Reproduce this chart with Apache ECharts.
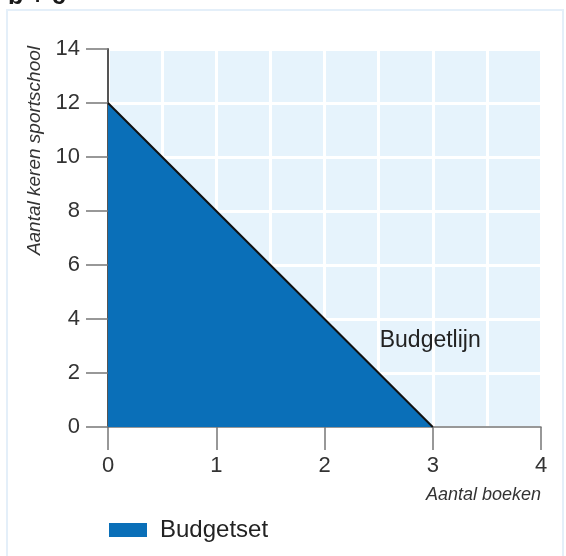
<!DOCTYPE html>
<html>
<head>
<meta charset="utf-8">
<script src="https://cdn.jsdelivr.net/npm/echarts@6/dist/echarts.min.js"></script>
<style>html,body{margin:0;padding:0;background:#fff;}#c{width:566px;height:556px;}</style>
</head>
<body>
<div id="c"></div>
<script>
const budgetLine = [[0, 12], [3, 0]];
const xTicks = [0, 1, 2, 3, 4];
const yTicks = [0, 2, 4, 6, 8, 10, 12, 14];
const lineLabel = 'Budgetlijn';
const lineLabelAt = [2.51, 3.2];
const setName = 'Budgetset';

const font = 'Liberation Sans';
const chart = echarts.init(document.getElementById('c'), null, {renderer: 'canvas'});
chart.setOption({
  animation: false,
  backgroundColor: '#ffffff',
  textStyle: {fontFamily: font},
  graphic: [
    {type: 'rect', shape: {x: 7, y: 10, width: 556, height: 560}, style: {fill: 'none', stroke: '#e4eff9', lineWidth: 2}, z: -1},
    {type: 'text', left: 8, top: -15, style: {text: 'b + c', font: 'bold 25px ' + font, fill: '#1a1a1a'}},
    {type: 'text', x: 35, y: 46, rotation: Math.PI / 2, style: {text: 'Aantal keren sportschool', font: 'italic 19px ' + font, fill: '#333', align: 'right', verticalAlign: 'middle'}}
  ],
  grid: {left: 108, right: 25, top: 49, bottom: 129, show: true, backgroundColor: '#e6f3fc', borderWidth: 0},
  legend: {
    data: [setName], left: 104, top: 513, icon: 'rect', itemWidth: 38, itemHeight: 14, itemGap: 10,
    textStyle: {fontSize: 24, color: '#222', fontFamily: font, padding: [0, 0, 0, 8]}
  },
  xAxis: {
    type: 'value', min: xTicks[0], max: xTicks[xTicks.length - 1], interval: 1,
    name: 'Aantal boeken', nameLocation: 'end', nameGap: 0,
    nameTextStyle: {fontStyle: 'italic', fontSize: 18, color: '#333', align: 'right', verticalAlign: 'top', padding: [59, 0, 0, 0]},
    axisLine: {show: true, lineStyle: {color: '#777', width: 1.5}},
    axisTick: {show: true, length: 23, lineStyle: {color: '#777', width: 1.5}},
    axisLabel: {fontSize: 22, color: '#333', margin: 28},
    splitLine: {show: true, lineStyle: {color: '#ffffff', width: 3}},
    minorTick: {show: false, splitNumber: 2},
    minorSplitLine: {show: true, lineStyle: {color: '#ffffff', width: 3}}
  },
  yAxis: {
    type: 'value', min: yTicks[0], max: yTicks[yTicks.length - 1], interval: 2,
    axisLine: {show: true, lineStyle: {color: '#555', width: 2}},
    axisTick: {show: true, length: 22, lineStyle: {color: '#777', width: 1.5}},
    axisLabel: {fontSize: 22, color: '#333', margin: 28},
    splitLine: {show: true, lineStyle: {color: '#ffffff', width: 3}}
  },
  series: [
    {
      name: setName, type: 'line', data: budgetLine, showSymbol: false, z: 2,
      lineStyle: {width: 0}, itemStyle: {color: '#0a6fb8'},
      areaStyle: {color: '#0a6fb8', opacity: 1}
    },
    {
      name: lineLabel, type: 'line', data: budgetLine, showSymbol: false, z: 3,
      lineStyle: {color: '#111', width: 2}, itemStyle: {color: '#111'},
      markPoint: {
        symbol: 'circle', symbolSize: 0,
        data: [{coord: lineLabelAt, value: lineLabel}],
        label: {show: true, position: 'right', distance: 0, formatter: lineLabel, fontSize: 23, color: '#222', fontFamily: font}
      }
    }
  ]
});
</script>
</body>
</html>
